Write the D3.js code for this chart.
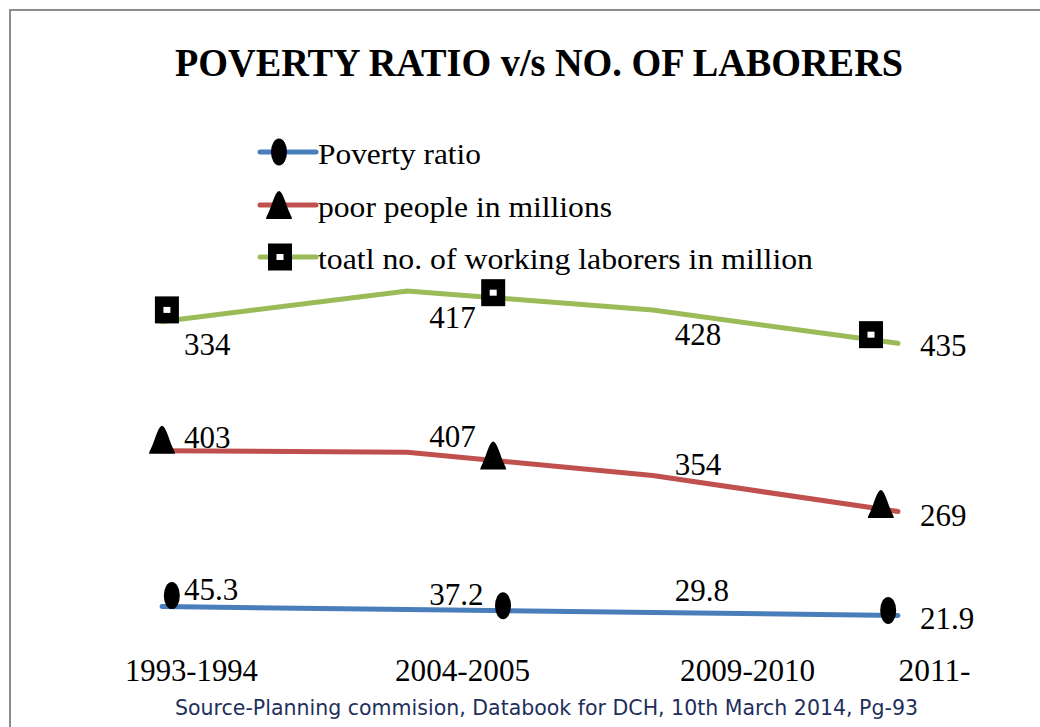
<!DOCTYPE html>
<html><head><meta charset="utf-8">
<script src="https://cdn.jsdelivr.net/npm/d3@7"></script>
<style>body{margin:0;background:#fff}svg{display:block}</style>
</head><body>
<svg id="c" width="1040" height="727"></svg>
<script>
// ---- data ----
const categories = ["1993-1994", "2004-2005", "2009-2010", "2011-"];
const povertyRatio = [45.3, 37.2, 29.8, 21.9];
const poorPeople = [403, 407, 354, 269];
const laborers = [334, 417, 428, 435];
const seriesNames = ["Poverty ratio", "poor people in millions", "toatl no. of working laborers in million"];
const titleText = "POVERTY RATIO v/s NO. OF LABORERS";
const sourceText = "Source-Planning commision, Databook for DCH, 10th March 2014, Pg-93";

// ---- layout / style config ----
const SERIF = "'Liberation Serif', 'Times New Roman', serif";
const colors = ["#4a7ebb", "#c0504d", "#9bbb59"];
const markerIdx = [[0.04, 1.39, 2.96], [0.0, 1.35, 2.93], [0.02, 1.35, 2.89]];
const markerLift = [11, 5, 5];
const labelDy = [[-6, -5, -11, 13], [-3, -5, -1, 14], [33, 37, 35, 13]];
const tickIdx = [0.118, 1.223, 2.385, 3.147];
const tickW = [133, 135, 135, 72];

const svg = d3.select("#c");
const W = 1040, H = 727;

// frame
svg.append("path").attr("d", `M10,${H}V10H${W}`).attr("fill", "none")
  .attr("stroke", "#8c8c8c").attr("stroke-width", 2);

// title
svg.append("text").attr("x", 175).attr("y", 76).text(titleText)
  .attr("font-family", SERIF).attr("font-weight", "bold").attr("font-size", 40)
  .attr("textLength", 728).attr("lengthAdjust", "spacingAndGlyphs").attr("fill", "#000");

const x = d3.scaleLinear().domain([0, 3]).range([162, 898]);
const y = d3.scaleLinear().domain([0, 900]).range([624, 276]);

const rows = categories.map((c, i) => ({c, a: povertyRatio[i], b: poorPeople[i], g: laborers[i]}));
const stacked = d3.stack().keys(["a", "b", "g"])(rows);
const raw = [povertyRatio, poorPeople, laborers];

function markerShape(sel, s) {
  if (s === 0) {
    sel.append("ellipse").attr("rx", 8).attr("ry", 13.5).attr("fill", "#000");
  } else if (s === 1) {
    sel.append("path").attr("d", "M0,-14 C3,-14 6,-4 9,4 C11,9 13,12 13,14 L-13,14 C-13,12 -11,9 -9,4 C-6,-4 -3,-14 0,-14Z").attr("fill", "#000");
  } else {
    sel.append("rect").attr("x", -12).attr("y", -13.5).attr("width", 24).attr("height", 27).attr("fill", "#000");
    sel.append("rect").attr("x", -3.5).attr("y", -3).attr("width", 7).attr("height", 6).attr("fill", "#fff");
  }
}

const line = d3.line().x((d, i) => x(i)).y(d => y(d[1]));
stacked.forEach((s, k) => {
  svg.append("path").datum(s).attr("d", line).attr("fill", "none")
    .attr("stroke", colors[k]).attr("stroke-width", 5).attr("stroke-linecap", "round");
});

stacked.forEach((s, k) => {
  const vals = s.map(d => d[1]);
  const interp = t => { const i = Math.min(2, Math.floor(t)); const f = t - i; return vals[i] + (vals[i + 1] - vals[i]) * f; };
  markerIdx[k].forEach((t, j) => {
    const g = svg.append("g").attr("transform", `translate(${x(t)},${y(interp(t)) - markerLift[j]})`);
    markerShape(g, k);
  });
  svg.append("g").selectAll("text").data(s).join("text")
    .attr("x", (d, i) => x(i) + 22).attr("y", (d, i) => y(d[1]) + labelDy[k][i])
    .text((d, i) => raw[k][i])
    .attr("font-family", SERIF).attr("font-size", 31).attr("fill", "#000");
});

// x axis labels
const ax = svg.append("g").attr("transform", "translate(0,681)")
  .call(d3.axisBottom(x).tickValues(tickIdx).tickSize(0).tickFormat((d, i) => categories[i]));
ax.select(".domain").remove();
ax.selectAll("text").attr("y", 0).attr("dy", 0)
  .attr("font-family", SERIF).attr("font-size", 32).attr("fill", "#000")
  .attr("textLength", (d, i) => tickW[i]).attr("lengthAdjust", "spacingAndGlyphs");

// legend
const legY = [152, 205, 257];
const legW = [163, 294, 495];
seriesNames.forEach((n, k) => {
  svg.append("line").attr("x1", 260).attr("x2", 316).attr("y1", legY[k]).attr("y2", legY[k])
    .attr("stroke", colors[k]).attr("stroke-width", 5).attr("stroke-linecap", "round");
  const g = svg.append("g").attr("transform", `translate(${[279, 279, 280][k]},${legY[k]})`);
  markerShape(g, k);
  svg.append("text").attr("x", 318).attr("y", legY[k] + 12).text(n)
    .attr("font-family", SERIF).attr("font-size", 30).attr("fill", "#000")
    .attr("textLength", legW[k]).attr("lengthAdjust", "spacingAndGlyphs");
});

// source
svg.append("text").attr("x", 175).attr("y", 715).text(sourceText)
  .attr("font-family", "DejaVu Sans").attr("font-size", 22).attr("fill", "#1f2f5c")
  .attr("textLength", 743).attr("lengthAdjust", "spacingAndGlyphs");
</script>
</body></html>
